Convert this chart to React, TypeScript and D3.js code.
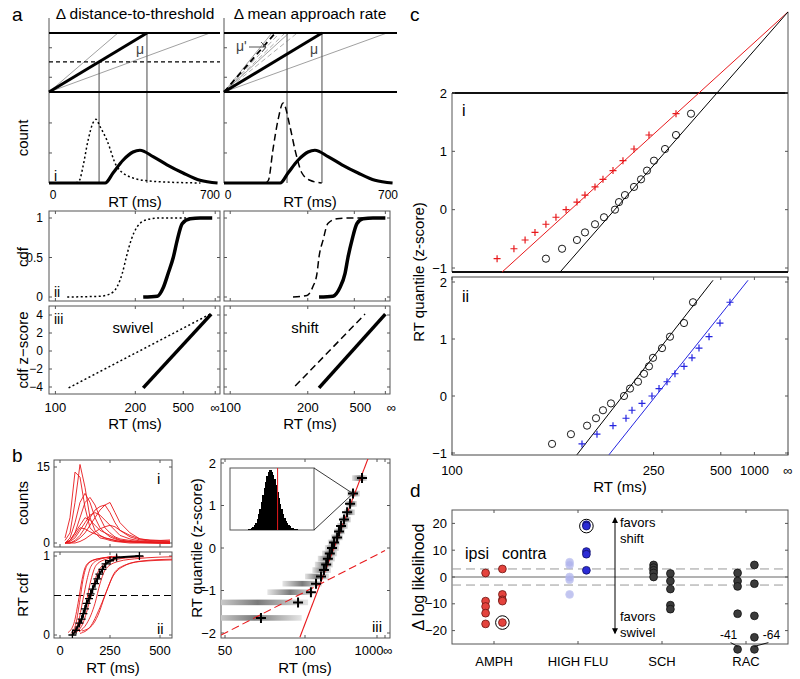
import * as d3 from "d3";

const FONT = "'Liberation Sans', Arial, Helvetica, sans-serif";
const AX = "#555";

type P = [number, number];
const rec = (rt: number) => (Number.isFinite(rt) ? -1 / rt : 0);
const fmtNum = (v: number) => (v < 0 ? "\u2212" + Math.abs(v) : String(v));
const fmtRT = (v: number) => (Number.isFinite(v) ? String(v) : "\u221e");

// ---------- panel a ----------
const aRiseTicks = [0.25, 0.75];
const aCountTicks = [0.33, 0.66];
const aMu = 401; // ms at which the mean-rate ray hits threshold
const aLeftRays = [282, 659];
const aLeftLowThreshold = 0.51;
const aLeftMark = 205;
const aRightRays = [196, 266, 667];
const aRightRaysDashed = [228, 250, 300];
const aMuPrime = 210;
const aRightMark = 258;

const aHistSolid: P[] = [[0, 0], [230, 0], [262, 0.11], [303, 0.25], [344, 0.34], [372, 0.36], [426, 0.29], [483, 0.2], [549, 0.11], [618, 0.03], [690, 0]];
const aHistDotted: P[] = [[110, 0], [125, 0.03], [139, 0.18], [160, 0.47], [180, 0.66], [192, 0.7], [209, 0.62], [237, 0.47], [278, 0.18], [344, 0.055], [420, 0.02], [483, 0.01], [620, 0]];
const aHistDashed: P[] = [[170, 0], [182, 0.03], [200, 0.36], [221, 0.69], [242, 0.88], [270, 0.62], [291, 0.36], [319, 0.11], [352, 0.03], [400, 0]];

const aRecTicks = [100, 200, 500, Infinity];
const aCdfTicks = [0, 0.5, 1];
const aZTicks = [-4, -2, 0, 2, 4];

const aCdfDottedL: P[] = [[108, 0], [139, 0.01], [152, 0.04], [163, 0.13], [172, 0.3], [180, 0.51], [190, 0.72], [205, 0.89], [235, 0.98], [291, 1], [457, 1], [3200, 1]];
const aCdfSolidL: P[] = [[222, 0], [276, 0.01], [308, 0.12], [340, 0.3], [381, 0.5], [421, 0.72], [485, 0.93], [640, 0.99], [1066, 1], [5333, 1]];
const aCdfDashedR: P[] = [[168, 0], [198, 0.02], [214, 0.13], [227, 0.3], [234, 0.51], [249, 0.72], [270, 0.93], [321, 0.99], [439, 1], [846, 1], [3000, 1]];
const aCdfSolidR: P[] = [[234, 0], [296, 0.01], [342, 0.12], [385, 0.3], [415, 0.5], [465, 0.72], [547, 0.93], [694, 0.99], [1256, 1], [Infinity, 1]];

const aZDottedL: P[] = [[109, -4.1], [3200, 4.1]];
const aZSolidL: P[] = [[222, -4.1], [4000, 4.1]];
const aZDashedR: P[] = [[172, -3.9], [763, 4.1]];
const aZSolidR: P[] = [[234, -4.1], [Infinity, 4.1]];

// ---------- panel b ----------
const bBins = [25, 50, 75, 100, 125, 150, 175, 200, 225, 250, 275, 300, 350, 400, 450, 500, 550];
const bCounts = [
  [0.5, 2, 8, 15.5, 11, 5, 2.5, 1.5, 1, 0.7, 0.5, 0.3, 0.2, 0.1, 0, 0, 0],
  [1, 5, 14, 13, 7, 3, 2, 1, 0.8, 0.5, 0.3, 0.2, 0, 0, 0, 0, 0],
  [0, 1, 4, 8, 9.8, 8, 5, 3, 2, 1.2, 0.8, 0.5, 0.3, 0.2, 0.1, 0, 0],
  [0, 0.5, 2, 5, 8, 9, 7.5, 5, 3, 2, 1.2, 0.8, 0.5, 0.3, 0.2, 0.1, 0],
  [0, 0, 0.5, 1.5, 3, 5, 6.5, 7.2, 7.5, 6, 4, 2.5, 1.2, 0.6, 0.4, 0.3, 0.3],
  [0, 0, 0.3, 1, 2, 3.5, 5, 6.5, 7.5, 8, 6, 4, 2, 0.8, 0.5, 0.5, 0.4],
  [0, 0.3, 1, 2.5, 4, 5.5, 6, 5.5, 4.5, 3.5, 2.5, 1.5, 0.8, 0.4, 0.3, 0.2, 0.2],
  [0, 0.5, 2, 3.5, 5, 4.5, 3.5, 2.5, 2, 1.5, 1, 0.6, 0.3, 0.2, 0.1, 0.1, 0],
  [0, 0, 0, 0.3, 0.8, 1.5, 2.2, 2.8, 3.2, 3.5, 3.2, 2.5, 1.5, 0.8, 0.6, 0.5, 0.6],
  [0, 0.5, 1.5, 3, 2.8, 2.2, 1.8, 1.4, 1, 0.8, 0.5, 0.3, 0.2, 0.1, 0.1, 0, 0],
];
const bCdfCurves: P[][] = [
  [[40, 0.03], [70, 0.15], [90, 0.4], [110, 0.7], [125, 0.85], [150, 0.93], [200, 0.97], [260, 0.99]],
  [[55, 0.02], [80, 0.15], [100, 0.45], [115, 0.7], [135, 0.88], [170, 0.95], [230, 0.98], [290, 1.0]],
  [[60, 0.03], [90, 0.15], [115, 0.45], [135, 0.7], [155, 0.87], [190, 0.95], [260, 0.99]],
  [[70, 0.02], [100, 0.12], [130, 0.4], [155, 0.7], [180, 0.88], [220, 0.95], [300, 0.99]],
  [[80, 0.03], [115, 0.15], [150, 0.45], [175, 0.7], [205, 0.86], [260, 0.94], [350, 0.98], [420, 0.99]],
  [[95, 0.04], [135, 0.15], [175, 0.4], [200, 0.65], [230, 0.84], [290, 0.93], [400, 0.97], [560, 0.99]],
  [[100, 0.02], [150, 0.1], [200, 0.35], [240, 0.6], [270, 0.78], [320, 0.88], [420, 0.94], [560, 0.96]],
  [[110, 0.05], [160, 0.12], [190, 0.25], [225, 0.5], [260, 0.72], [310, 0.86], [400, 0.93], [560, 0.95]],
];
const bMeanCdf: P[] = [[62, 0], [80, 0.06], [97, 0.15], [108, 0.2], [117, 0.27], [125, 0.33], [133, 0.4], [145, 0.46], [153, 0.52], [163, 0.58], [175, 0.65], [187, 0.71], [197, 0.77], [212, 0.83], [228, 0.9], [250, 0.94], [283, 0.98], [397, 1.0]];

const bQuantZ = [1.645, 1.28, 1.04, 0.84, 0.67, 0.52, 0.39, 0.25, 0.13, 0, -0.13, -0.25, -0.39, -0.52, -0.67, -0.84, -1.04, -1.28, -1.645];
const bQuantRT = [348, 250, 229, 211, 195, 182, 174, 167, 157, 151, 145, 140, 136, 131, 125, 116, 108, 92, 64.5];
const bBarLo = [242, 211, 205, 195, 178, 167, 157, 148, 140, 133, 127, 119, 114, 110, 100, 78, 68, 45, 45];
const bBarHi = [444, 320, 286, 267, 235, 216, 200, 190, 178, 174, 167, 160, 154, 148, 143, 127, 111, 104, 96];
const bFitSolid: P[] = [[94, -2.1], [470, 2.1]];
const bFitDashed: P[] = [[48.8, -2.05], [Infinity, -0.06]];
const bInsetStart = 13;
const bInsetCounts = [1, 2, 3, 5, 8, 12, 18, 26, 35, 46, 58, 70, 80, 90, 96, 100, 97, 92, 85, 75, 64, 54, 44, 35, 27, 20, 15, 11, 8, 6, 4, 3, 2, 1, 1];
const bInsetMark = 34;
const bInsetPoint = 1; // index of quantile shown in the inset

// ---------- panel c ----------
const cZ = [-0.84, -0.67, -0.52, -0.39, -0.25, -0.13, 0, 0.13, 0.25, 0.39, 0.52, 0.67, 0.84, 1.04, 1.28, 1.645];
const cRTicks = [100, 250, 500, 1000, Infinity];
const cZTicks = [-1, 0, 1, 2];
const c1Red = [115.5, 122.6, 127.8, 132.8, 138.8, 144.8, 151.4, 159.2, 165.5, 174.1, 181.6, 192, 203.6, 218.2, 241.7, 300];
const c1Black = [138.8, 148.7, 159.2, 165.5, 174.1, 182.6, 194.2, 198.8, 206.1, 218.2, 228.6, 238.3, 250.7, 273.2, 300, 346.4];
const c2Black = [142.4, 154.8, 167.2, 175, 181.6, 189.8, 204.9, 212.7, 224, 233.3, 241.7, 248.9, 266.7, 284.7, 323.1, 353.7];
const c2Blue = [163.1, 175.9, 192, 207.4, 215.4, 230.1, 247, 260.5, 277.7, 297.3, 323.1, 350, 377.5, 425.5, 494, 579];
const c1RedFit: P[] = [[117.5, -1.07], [Infinity, 3.39]];
const c1BlackFit: P[] = [[147.4, -1.07], [Infinity, 3.39]];
const c2BlackFit: P[] = [[159.2, -1.03], [448, 2.03]];
const c2BlueFit: P[] = [[187.7, -1.03], [840, 2.03]];

// ---------- panel d ----------
const dCategories = ["AMPH", "HIGH FLU", "SCH", "RAC"];
const dIpsi = [
  [1.5, -9, -11, -13.5, -17.5],
  [5.5, 4.5, 0, -1, -6.5],
  [4.5, 3.5, 2.5, 1.5, 0],
  [1.5, -1.5, -3.5, -13.7, -41],
];
const dContra = [
  [3, -6.5, -8.5, -9, -17],
  [19.5, 19, 9.5, 8.5, 2.5],
  [1.3, -1.5, -4.5, -10.5, -12],
  [4.5, -2.5, -14.5, -22.5, -64],
];
const dCircled: [string, number, number][] = [["contra", 0, 4], ["contra", 1, 1]];
const dYTicks = [-20, -10, 0, 10, 20];
const dBands = [3, -3];
const dFloor = -27;

const crossPath = (x: number, y: number, s: number) => `M${x - s},${y}H${x + s}M${x},${y - s}V${y + s}`;

function Frame({ x0, x1, y0, y1, stroke = AX, w = 1 }: any) {
  return <rect x={x0} y={y0} width={x1 - x0} height={y1 - y0} fill="none" stroke={stroke} strokeWidth={w} />;
}

function YTicks({ y, values, x0, x1, fmt = fmtNum, size = 13, len = 3, labels = true, gap = 5 }: any) {
  return (
    <g>
      {values.map((v: number) => (
        <g key={v}>
          <line x1={x0} x2={x0 + len} y1={y(v)} y2={y(v)} stroke={AX} />
          <line x1={x1} x2={x1 - len} y1={y(v)} y2={y(v)} stroke={AX} />
          {labels && (
            <text x={x0 - gap} y={y(v)} dy="0.36em" textAnchor="end" fontSize={size}>
              {fmt(v)}
            </text>
          )}
        </g>
      ))}
    </g>
  );
}

function XTicks({ x, values, y0, y1, labelY, fmt = fmtRT, size = 13, len = 3, labels = true, dx = [] as number[] }: any) {
  return (
    <g>
      {values.map((v: number, i: number) => (
        <g key={i}>
          <line x1={x(v)} x2={x(v)} y1={y1} y2={y1 - len} stroke={AX} />
          <line x1={x(v)} x2={x(v)} y1={y0} y2={y0 + len} stroke={AX} />
          {labels && (
            <text x={x(v) + (dx[i] || 0)} y={labelY} textAnchor="middle" fontSize={size}>
              {fmt(v)}
            </text>
          )}
        </g>
      ))}
    </g>
  );
}

const VLabel = ({ x, y, text, size = 15 }: any) => (
  <text transform={`translate(${x},${y}) rotate(-90)`} textAnchor="middle" fontSize={size}>
    {text}
  </text>
);

export default function App() {
  // ---- a scales ----
  const xaL = d3.scaleLinear([0, 700], [49, 220]);
  const xaR = d3.scaleLinear([0, 700], [224, 395]);
  const yRise = d3.scaleLinear([0, 1], [92, 33]);
  const yHist = d3.scaleLinear([0, 1], [183, 92]);
  const xcL = d3.scaleLinear([-0.0104, 0.0003], [49, 220]);
  const xcR = d3.scaleLinear([-0.0104, 0.0003], [224, 390]);
  const xrL = (rt: number) => xcL(rec(rt));
  const xrR = (rt: number) => xcR(rec(rt));
  const yCdf = d3.scaleLinear([0, 1], [297, 218]);
  const yZ = d3.scaleLinear([-4, 4], [387, 315]);

  const histLine = (xs: any) => d3.line<P>().x((d) => xs(d[0])).y((d) => yHist(d[1])).curve(d3.curveMonotoneX);
  const recCurve = (xr: any, ys: any, smooth = true) => {
    const l = d3.line<P>().x((d) => xr(d[0])).y((d) => ys(d[1]));
    return smooth ? l.curve(d3.curveMonotoneX) : l;
  };

  // ---- b scales ----
  const xb = d3.scaleLinear([0, 500], [60, 160]);
  const yCount = d3.scaleLinear([0, 15], [543, 467]);
  const yBcdf = d3.scaleLinear([0, 1], [635, 556]);
  const xb3s = d3.scaleLinear([-0.02, 0], [225, 385]);
  const xb3 = (rt: number) => xb3s(rec(rt));
  const yb3 = d3.scaleLinear([-2, 2], [633, 463]);
  const xInset = d3.scaleLinear([0, 60], [230, 314]);
  const yInset = d3.scaleLinear([0, 100], [530, 470]);

  // ---- c scales ----
  const xcs = d3.scaleLinear([-0.01, 0], [452, 788]);
  const xc = (rt: number) => xcs(rec(rt));
  const yc1 = d3.scaleLinear([-1, 2], [268, 93]);
  const yc2 = d3.scaleLinear([-1, 2], [453, 282]);

  // ---- d scales ----
  const xd = d3.scaleLinear([0.5, 4.5], [452, 788]);
  const yd = d3.scaleLinear([-25, 25], [644, 510]);
  const dShown = (v: number) => Math.max(v, dFloor);

  const countLine = d3.line<number>().x((_, i) => xb(bBins[i])).y((d) => yCount(d));
  const bcdfLine = d3.line<P>().x((d) => xb(d[0])).y((d) => yBcdf(d[1])).curve(d3.curveMonotoneX);
  const bMeanLine = d3.line<P>().x((d) => xb(d[0])).y((d) => yBcdf(d[1]));

  const insetPt = [xb3(bQuantRT[bInsetPoint]), yb3(bQuantZ[bInsetPoint])];
  const binW = xInset(1) - xInset(0);

  const dGroups = [
    { key: "ipsi", vals: dIpsi, off: -0.1 },
    { key: "contra", vals: dContra, off: 0.1 },
  ];
  const dStyle = (cat: number, side: string) => {
    if (cat === 0) return { fill: "#e4433d", stroke: "#6b1512", opacity: 1 };
    if (cat === 1) return side === "ipsi" ? { fill: "#aeb2ec", stroke: "#b8bcef", opacity: 0.75 } : { fill: "#2b2bd6", stroke: "#0f0f66", opacity: 1 };
    return { fill: "#3b3b3b", stroke: "#111", opacity: 1 };
  };

  const ripX = xd(4 - 0.1);
  const rcoX = xd(4 + 0.1);
  const floorY = yd(dFloor);

  return (
    <svg width={800} height={679} style={{ position: "absolute", left: 0, top: 0 }} fontFamily={FONT}>
      <defs>
        <clipPath id="clipBi"><rect x={54} y={460} width={118} height={87} /></clipPath>
        <clipPath id="clipBii"><rect x={54} y={552} width={118} height={86} /></clipPath>
        <clipPath id="clipBiii"><rect x={221} y={459} width={169} height={179} /></clipPath>
        <clipPath id="clipCii"><rect x={452} y={277} width={336} height={178} /></clipPath>
        <linearGradient id="barGrad" x1="0" x2="1" y1="0" y2="0">
          <stop offset="0%" stopColor="#e6e6e6" />
          <stop offset="50%" stopColor="#7a7a7a" />
          <stop offset="100%" stopColor="#e6e6e6" />
        </linearGradient>
      </defs>
      <rect width={800} height={679} fill="white" />

      {/* ================= a ================= */}
      <text x={12} y={21} fontSize={19}>a</text>
      <text x={135} y={19} textAnchor="middle" fontSize={15.5}>Δ distance-to-threshold</text>
      <text x={310} y={19} textAnchor="middle" fontSize={15.5}>Δ mean approach rate</text>
      <VLabel x={28} y={138} text="count" />

      {/* left top */}
      <line x1={49} x2={49} y1={18} y2={183} stroke={AX} />
      {aRiseTicks.map((t) => <line key={t} x1={49} x2={52} y1={yRise(t)} y2={yRise(t)} stroke={AX} />)}
      {aCountTicks.map((t) => <line key={t} x1={49} x2={52} y1={yHist(t)} y2={yHist(t)} stroke={AX} />)}
      {aLeftRays.map((t) => <line key={t} x1={xaL(0)} y1={yRise(0)} x2={xaL(t)} y2={yRise(1)} stroke="#888" strokeWidth={0.8} />)}
      <line x1={49} x2={220} y1={yRise(aLeftLowThreshold)} y2={yRise(aLeftLowThreshold)} stroke="#000" strokeWidth={1.3} strokeDasharray="4,3" />
      <line x1={xaL(aLeftMark)} x2={xaL(aLeftMark)} y1={yRise(aLeftLowThreshold)} y2={yHist(0)} stroke="#666" strokeWidth={1.2} />
      <line x1={xaL(aMu)} x2={xaL(aMu)} y1={yRise(1)} y2={yHist(0)} stroke="#666" strokeWidth={1.2} />
      <line x1={49} x2={220} y1={yRise(1)} y2={yRise(1)} stroke="#000" strokeWidth={2} />
      <line x1={49} x2={220} y1={yRise(0)} y2={yRise(0)} stroke="#000" strokeWidth={2} />
      <line x1={xaL(0)} y1={yRise(0)} x2={xaL(aMu)} y2={yRise(1)} stroke="#000" strokeWidth={3} />
      <text x={136} y={54} fontSize={14} fill="#444">μ</text>
      <path d={histLine(xaL)(aHistDotted) || ""} fill="none" stroke="#000" strokeWidth={1.5} strokeDasharray="2,2.5" />
      <path d={histLine(xaL)(aHistSolid) || ""} fill="none" stroke="#000" strokeWidth={3.2} />
      <text x={54} y={181} fontSize={14}>i</text>
      <text x={53} y={199} textAnchor="middle" fontSize={12}>0</text>
      <text x={210} y={199} textAnchor="middle" fontSize={12}>700</text>
      <text x={135} y={207} textAnchor="middle" fontSize={15}>RT (ms)</text>

      {/* right top */}
      <line x1={224} x2={224} y1={18} y2={183} stroke={AX} />
      {aRiseTicks.map((t) => <line key={t} x1={224} x2={227} y1={yRise(t)} y2={yRise(t)} stroke={AX} />)}
      {aCountTicks.map((t) => <line key={t} x1={224} x2={227} y1={yHist(t)} y2={yHist(t)} stroke={AX} />)}
      {aRightRays.map((t) => <line key={t} x1={xaR(0)} y1={yRise(0)} x2={xaR(t)} y2={yRise(1)} stroke="#888" strokeWidth={0.8} />)}
      {aRightRaysDashed.map((t) => <line key={t} x1={xaR(0)} y1={yRise(0)} x2={xaR(t)} y2={yRise(1)} stroke="#999" strokeWidth={0.8} strokeDasharray="5,3" />)}
      <line x1={xaR(0)} y1={yRise(0)} x2={xaR(aMuPrime)} y2={yRise(1)} stroke="#000" strokeWidth={1.8} strokeDasharray="6,4" />
      <line x1={xaR(aRightMark)} x2={xaR(aRightMark)} y1={yRise(1)} y2={yHist(0)} stroke="#666" strokeWidth={1.2} />
      <line x1={xaR(aMu)} x2={xaR(aMu)} y1={yRise(1)} y2={yHist(0)} stroke="#666" strokeWidth={1.2} />
      <line x1={224} x2={397} y1={yRise(1)} y2={yRise(1)} stroke="#000" strokeWidth={2} />
      <line x1={224} x2={397} y1={yRise(0)} y2={yRise(0)} stroke="#000" strokeWidth={2} />
      <line x1={xaR(0)} y1={yRise(0)} x2={xaR(aMu)} y2={yRise(1)} stroke="#000" strokeWidth={3} />
      <text x={310} y={54} fontSize={14} fill="#444">μ</text>
      <text x={236} y={51} fontSize={14} fill="#444">μ'</text>
      <line x1={249} x2={266} y1={47} y2={47} stroke="#555" strokeWidth={1} />
      <path d="M261,42 L266,47 L262,52" fill="none" stroke="#555" strokeWidth={1} />
      <path d={histLine(xaR)(aHistDashed) || ""} fill="none" stroke="#000" strokeWidth={1.5} strokeDasharray="7,4" />
      <path d={histLine(xaR)(aHistSolid) || ""} fill="none" stroke="#000" strokeWidth={3.2} />
      <text x={228} y={199} textAnchor="middle" fontSize={12}>0</text>
      <text x={388} y={199} textAnchor="middle" fontSize={12}>700</text>
      <text x={310} y={207} textAnchor="middle" fontSize={15}>RT (ms)</text>

      {/* cdf ii */}
      <VLabel x={28} y={257} text="cdf" />
      <Frame x0={49} x1={220} y0={211} y1={301} />
      <Frame x0={224} x1={390} y0={211} y1={301} />
      <YTicks y={yCdf} values={aCdfTicks} x0={49} x1={220} size={12} gap={6} />
      <YTicks y={yCdf} values={aCdfTicks} x0={224} x1={390} labels={false} />
      <XTicks x={xrL} values={aRecTicks} y0={211} y1={301} labels={false} />
      <XTicks x={xrR} values={aRecTicks} y0={211} y1={301} labels={false} />
      <path d={recCurve(xrL, yCdf)(aCdfDottedL) || ""} fill="none" stroke="#000" strokeWidth={1.5} strokeDasharray="2,2.5" />
      <path d={recCurve(xrL, yCdf)(aCdfSolidL) || ""} fill="none" stroke="#000" strokeWidth={3.5} />
      <path d={recCurve(xrR, yCdf)(aCdfDashedR) || ""} fill="none" stroke="#000" strokeWidth={1.5} strokeDasharray="7,4" />
      <path d={recCurve(xrR, yCdf)(aCdfSolidR) || ""} fill="none" stroke="#000" strokeWidth={3.5} />
      <text x={54} y={297} fontSize={14}>ii</text>

      {/* z-score iii */}
      <VLabel x={28} y={350} text="cdf z−score" />
      <Frame x0={49} x1={220} y0={306} y1={394} />
      <Frame x0={224} x1={390} y0={306} y1={394} />
      <YTicks y={yZ} values={aZTicks} x0={49} x1={220} size={12} gap={6} />
      <YTicks y={yZ} values={aZTicks} x0={224} x1={390} labels={false} />
      <XTicks x={xrL} values={aRecTicks} y0={306} y1={394} labelY={412} />
      <XTicks x={xrR} values={aRecTicks} y0={306} y1={394} labelY={412} dx={[0, 0, 6, 6]} />
      <path d={recCurve(xrL, yZ, false)(aZDottedL) || ""} fill="none" stroke="#000" strokeWidth={1.5} strokeDasharray="2,2.5" />
      <path d={recCurve(xrL, yZ, false)(aZSolidL) || ""} fill="none" stroke="#000" strokeWidth={3.5} />
      <path d={recCurve(xrR, yZ, false)(aZDashedR) || ""} fill="none" stroke="#000" strokeWidth={1.5} strokeDasharray="7,4" />
      <path d={recCurve(xrR, yZ, false)(aZSolidR) || ""} fill="none" stroke="#000" strokeWidth={3.5} />
      <text x={54} y={324} fontSize={14}>iii</text>
      <text x={133} y={333} textAnchor="middle" fontSize={15}>swivel</text>
      <text x={305} y={333} textAnchor="middle" fontSize={15}>shift</text>
      <text x={135} y={429} textAnchor="middle" fontSize={15}>RT (ms)</text>
      <text x={310} y={429} textAnchor="middle" fontSize={15}>RT (ms)</text>

      {/* ================= b ================= */}
      <text x={12} y={462} fontSize={19}>b</text>
      <VLabel x={28} y={503} text="counts" />
      <VLabel x={28} y={595} text="RT cdf" />
      <Frame x0={54} x1={172} y0={460} y1={547} />
      <YTicks y={yCount} values={[0, 15]} x0={54} x1={172} size={12} gap={4} />
      <XTicks x={xb} values={[0, 250, 500]} y0={460} y1={547} labels={false} />
      <g clipPath="url(#clipBi)">
        {bCounts.map((c, i) => (
          <path key={i} d={countLine(c) || ""} fill="none" stroke="#e8191c" strokeWidth={0.9} />
        ))}
      </g>
      <text x={157} y={484} fontSize={15}>i</text>

      <Frame x0={54} x1={172} y0={552} y1={638} />
      <YTicks y={yBcdf} values={[0, 1]} x0={54} x1={172} size={12} gap={4} />
      <XTicks x={xb} values={[0, 250, 500]} y0={552} y1={638} labelY={655} />
      <g clipPath="url(#clipBii)">
        <line x1={54} x2={172} y1={yBcdf(0.5)} y2={yBcdf(0.5)} stroke="#000" strokeWidth={1} strokeDasharray="7,4" />
        {bCdfCurves.map((c, i) => (
          <path key={i} d={bcdfLine(c) || ""} fill="none" stroke="#e8191c" strokeWidth={0.9} />
        ))}
        <path d={bMeanLine(bMeanCdf) || ""} fill="none" stroke="#000" strokeWidth={2} />
        {bMeanCdf.map((d, i) => (
          <path key={i} d={crossPath(xb(d[0]), yBcdf(d[1]), 4)} stroke="#000" strokeWidth={1.3} />
        ))}
      </g>
      <text x={157} y={634} fontSize={15}>ii</text>
      <text x={113} y={673} textAnchor="middle" fontSize={15}>RT (ms)</text>

      {/* b iii */}
      <VLabel x={202} y={548} text="RT quantile (z-score)" />
      <Frame x0={221} x1={390} y0={459} y1={638} />
      <YTicks y={yb3} values={[-2, -1, 0, 1, 2]} x0={221} x1={390} />
      <XTicks x={xb3} values={[50, 100, 1000, Infinity]} y0={459} y1={638} labelY={655} dx={[0, 0, -8, 3]} />
      <g clipPath="url(#clipBiii)">
        {bQuantZ.map((z, i) => (
          <rect key={i} x={xb3(bBarLo[i])} width={xb3(bBarHi[i]) - xb3(bBarLo[i])} y={yb3(z) - 2.8} height={5.6} fill="url(#barGrad)" />
        ))}
        <path d={d3.line<P>().x((d) => xb3(d[0])).y((d) => yb3(d[1]))(bFitSolid) || ""} fill="none" stroke="#e8191c" strokeWidth={1.1} />
        <path d={d3.line<P>().x((d) => xb3(d[0])).y((d) => yb3(d[1]))(bFitDashed) || ""} fill="none" stroke="#e8191c" strokeWidth={1.1} strokeDasharray="8,4" />
        {bQuantZ.map((z, i) => (
          <path key={i} d={crossPath(xb3(bQuantRT[i]), yb3(z), 5)} stroke="#000" strokeWidth={2} />
        ))}
      </g>
      {/* inset */}
      <rect x={230} y={468} width={84} height={62} fill="white" stroke={AX} strokeWidth={1} />
      {bInsetCounts.map((c, i) => (
        <rect key={i} x={xInset(bInsetStart + i)} width={binW + 1} y={yInset(c)} height={yInset(0) - yInset(c)} fill="#000" shapeRendering="crispEdges" />
      ))}
      <line x1={xInset(bInsetMark)} x2={xInset(bInsetMark)} y1={468} y2={530} stroke="#e8191c" strokeWidth={1} />
      <line x1={314} y1={468} x2={insetPt[0]} y2={insetPt[1]} stroke="#222" strokeWidth={0.9} />
      <line x1={314} y1={530} x2={insetPt[0]} y2={insetPt[1]} stroke="#222" strokeWidth={0.9} />
      <text x={372} y={632} fontSize={15}>iii</text>
      <text x={305} y={673} textAnchor="middle" fontSize={15}>RT (ms)</text>

      {/* ================= c ================= */}
      <text x={410} y={21} fontSize={19}>c</text>
      <VLabel x={424} y={272} text="RT quantile (z-score)" />
      {/* c i */}
      <line x1={452} x2={452} y1={93} y2={272} stroke={AX} />
      <line x1={788} x2={788} y1={12} y2={272} stroke={AX} />
      <line x1={452} x2={788} y1={93} y2={93} stroke="#111" strokeWidth={1.8} />
      <line x1={452} x2={788} y1={272} y2={272} stroke="#111" strokeWidth={1.8} />
      <YTicks y={yc1} values={cZTicks} x0={452} x1={788} />
      <path d={d3.line<P>().x((d) => xc(d[0])).y((d) => yc1(d[1]))(c1RedFit) || ""} fill="none" stroke="#e8191c" strokeWidth={1} />
      <path d={d3.line<P>().x((d) => xc(d[0])).y((d) => yc1(d[1]))(c1BlackFit) || ""} fill="none" stroke="#000" strokeWidth={1} />
      {cZ.map((z, i) => (
        <path key={"r" + i} d={crossPath(xc(c1Red[i]), yc1(z), 3.5)} stroke="#e8191c" strokeWidth={1.2} />
      ))}
      {cZ.map((z, i) => (
        <circle key={"k" + i} cx={xc(c1Black[i])} cy={yc1(z)} r={3.6} fill="none" stroke="#000" strokeWidth={0.9} />
      ))}
      <text x={462} y={116} fontSize={16}>i</text>

      {/* c ii */}
      <Frame x0={452} x1={788} y0={277} y1={455} stroke="#444" />
      <YTicks y={yc2} values={cZTicks} x0={452} x1={788} />
      <XTicks x={xc} values={cRTicks} y0={277} y1={455} labelY={475} />
      <g clipPath="url(#clipCii)">
        <path d={d3.line<P>().x((d) => xc(d[0])).y((d) => yc2(d[1]))(c2BlackFit) || ""} fill="none" stroke="#000" strokeWidth={1} />
        <path d={d3.line<P>().x((d) => xc(d[0])).y((d) => yc2(d[1]))(c2BlueFit) || ""} fill="none" stroke="#2424e0" strokeWidth={1} />
      </g>
      {cZ.map((z, i) => (
        <circle key={"k2" + i} cx={xc(c2Black[i])} cy={yc2(z)} r={3.6} fill="none" stroke="#000" strokeWidth={0.9} />
      ))}
      {cZ.map((z, i) => (
        <path key={"b" + i} d={crossPath(xc(c2Blue[i]), yc2(z), 3.5)} stroke="#2424e0" strokeWidth={1.2} />
      ))}
      <text x={462} y={302} fontSize={16}>ii</text>
      <text x={620} y={492} textAnchor="middle" fontSize={15}>RT (ms)</text>

      {/* ================= d ================= */}
      <text x={410} y={497} fontSize={19}>d</text>
      <VLabel x={424} y={577} text="Δ log likelihood" size={16} />
      <Frame x0={452} x1={788} y0={510} y1={644} />
      <YTicks y={yd} values={dYTicks} x0={452} x1={788} />
      {dCategories.map((c, i) => (
        <g key={c}>
          <line x1={xd(i + 1)} x2={xd(i + 1)} y1={510} y2={513} stroke={AX} />
          <line x1={xd(i + 1)} x2={xd(i + 1)} y1={644} y2={641} stroke={AX} />
          <text x={xd(i + 1)} y={666} textAnchor="middle" fontSize={13}>{c}</text>
        </g>
      ))}
      <line x1={452} x2={788} y1={yd(0)} y2={yd(0)} stroke="#555" strokeWidth={0.9} />
      {dBands.map((b) => (
        <line key={b} x1={452} x2={788} y1={yd(b)} y2={yd(b)} stroke="#999" strokeWidth={1} strokeDasharray="9,5" />
      ))}
      {/* arrow */}
      <line x1={615} x2={615} y1={yd(22)} y2={yd(-21)} stroke="#000" strokeWidth={1} />
      <path d={`M612,${yd(22) + 5} L615,${yd(22) - 1} L618,${yd(22) + 5} Z`} fill="#000" />
      <path d={`M612,${yd(-21) - 5} L615,${yd(-21) + 1} L618,${yd(-21) - 5} Z`} fill="#000" />
      <text x={620} y={527} fontSize={13}>favors</text>
      <text x={620} y={543} fontSize={13}>shift</text>
      <text x={620} y={621} fontSize={13}>favors</text>
      <text x={620} y={637} fontSize={13}>swivel</text>
      <text x={465} y={559} fontSize={16}>ipsi</text>
      <text x={502} y={559} fontSize={16}>contra</text>
      {dGroups.map((g) =>
        g.vals.map((vals, ci) =>
          vals.map((v, j) => {
            const s = dStyle(ci, g.key);
            return (
              <circle key={g.key + ci + "-" + j} cx={xd(ci + 1 + g.off)} cy={yd(dShown(v))} r={3.9} fill={s.fill} stroke={s.stroke} strokeWidth={0.8} opacity={s.opacity} />
            );
          })
        )
      )}
      {dCircled.map(([side, ci, j]) => {
        const g = dGroups.find((gg) => gg.key === side)!;
        return <circle key={side + ci} cx={xd(ci + 1 + g.off)} cy={yd(dShown(g.vals[ci][j]))} r={6.8} fill="none" stroke="#000" strokeWidth={1} />;
      })}
      <text x={ripX - 9} y={yd(-20) + 8} textAnchor="middle" fontSize={12}>{String(dIpsi[3][4])}</text>
      <text x={rcoX + 17} y={yd(-20) + 8} textAnchor="middle" fontSize={12}>{String(dContra[3][4])}</text>
      <line x1={ripX - 7} y1={yd(-20) + 12} x2={ripX} y2={floorY - 3} stroke="#000" strokeWidth={0.9} />
      <line x1={rcoX + 14} y1={yd(-20) + 12} x2={rcoX} y2={floorY - 3} stroke="#000" strokeWidth={0.9} />
    </svg>
  );
}
